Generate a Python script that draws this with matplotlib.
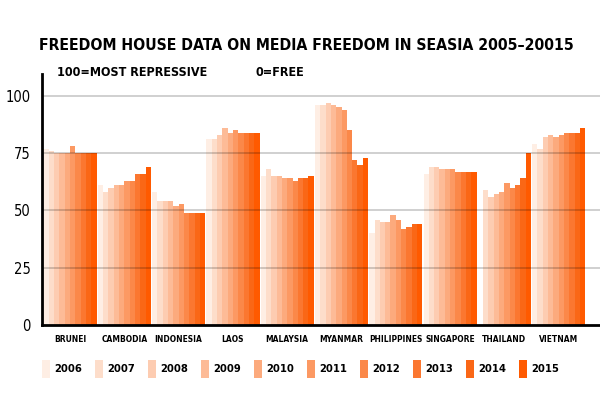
import numpy as np
import matplotlib
matplotlib.use('Agg')
import matplotlib.pyplot as plt
from matplotlib.patches import Rectangle

plt.rcParams['font.family'] = ['DejaVu Sans']
plt.rcParams['font.stretch'] = 'condensed'

countries = ['BRUNEI', 'CAMBODIA', 'INDONESIA', 'LAOS', 'MALAYSIA',
             'MYANMAR', 'PHILIPPINES', 'SINGAPORE', 'THAILAND', 'VIETNAM']
years = ['2006', '2007', '2008', '2009', '2010', '2011', '2012', '2013', '2014', '2015']

# scores per country, 2006..2015 (100 = most repressive)
brunei = [77, 76, 75, 75, 75, 78, 75, 75, 75, 75]
cambodia = [61, 58, 60, 61, 61, 63, 63, 66, 66, 69]
indonesia = [58, 54, 54, 54, 52, 53, 49, 49, 49, 49]
laos = [81, 81, 83, 86, 84, 85, 84, 84, 84, 84]
malaysia = [65, 68, 65, 65, 64, 64, 63, 64, 64, 65]
myanmar = [96, 96, 97, 96, 95, 94, 85, 72, 70, 73]
philippines = [40, 46, 45, 45, 48, 46, 42, 43, 44, 44]
singapore = [66, 69, 69, 68, 68, 68, 67, 67, 67, 67]
thailand = [np.nan, 59, 56, 57, 58, 62, 60, 61, 64, 75]
vietnam = [79, 77, 82, 83, 82, 83, 84, 84, 84, 86]

scores = np.array([brunei, cambodia, indonesia, laos, malaysia,
                   myanmar, philippines, singapore, thailand, vietnam])

colors = ['#FEEEE4', '#FDDDCA', '#FDCCB1', '#FDBB97', '#FCAA7D',
          '#FC9963', '#FB8849', '#FB7730', '#FA6716', '#FF5A00']

fig = plt.figure(figsize=(6, 4.07), dpi=100)
ax = fig.add_axes([41.7 / 600, 82 / 407, 1 - 41.7 / 600, 251 / 407])

x = np.arange(len(countries))
w = 0.098
for j, yr in enumerate(years):
    ax.bar(x + (j - 4.5) * w, scores[:, j], width=w, color=colors[j],
           linewidth=0, zorder=2)

ax.set_xlim(-0.521, 9.76)
ax.set_ylim(0, 109.6)
ax.set_yticks([0, 25, 50, 75, 100])
ax.set_yticklabels(['0', '25', '50', '75', '100'], fontsize=10.5)
for yv in [25, 50, 75, 100]:
    ax.axhline(yv, color='black', alpha=0.2, lw=1.3, zorder=3)
ax.set_xticks(x)
ax.set_xticklabels(countries, fontsize=6, fontweight='bold')
ax.tick_params(axis='y', length=0, pad=8)
ax.tick_params(axis='x', length=0, pad=7)
for s in ['top', 'right']:
    ax.spines[s].set_visible(False)
ax.spines['left'].set_linewidth(2)
ax.spines['bottom'].set_linewidth(2)
ax.spines['left'].set_zorder(4)
ax.spines['bottom'].set_zorder(4)

fig.text(306 / 600, 1 - 45 / 407, 'FREEDOM HOUSE DATA ON MEDIA FREEDOM IN SEASIA 2005\u201320015',
         ha='center', va='center', fontsize=11.3, fontweight='bold')
fig.text(57 / 600, 1 - 73 / 407, '100=MOST REPRESSIVE', ha='left', va='center',
         fontsize=9, fontweight='bold')
fig.text(255 / 600, 1 - 73 / 407, '0=FREE', ha='left', va='center',
         fontsize=9, fontweight='bold')

# legend row
for j, yr in enumerate(years):
    x0 = 42 + j * 53
    fig.patches.append(Rectangle((x0 / 600, 1 - 378 / 407), 8 / 600, 18 / 407,
                                 transform=fig.transFigure, color=colors[j],
                                 linewidth=0))
    fig.text((x0 + 12) / 600, 1 - 369.5 / 407, yr, ha='left', va='center',
             fontsize=8, fontweight='bold')

plt.savefig('out.png', dpi=100)
